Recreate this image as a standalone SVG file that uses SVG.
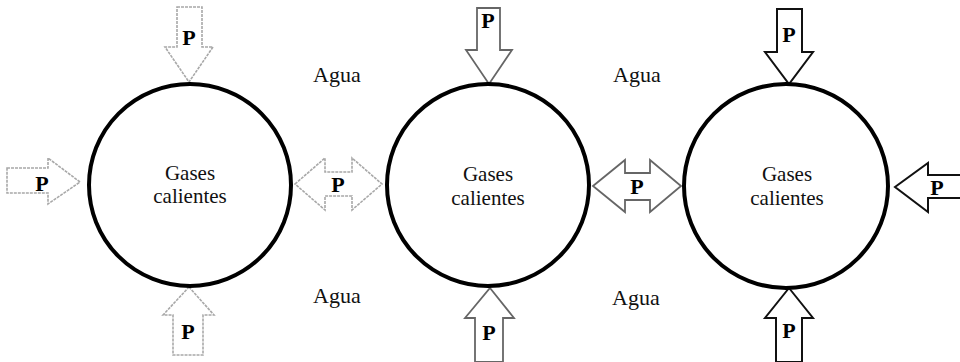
<svg xmlns="http://www.w3.org/2000/svg" width="960" height="362" viewBox="0 0 960 362">
<style>
.circ{fill:none;stroke:#000;stroke-width:4}
.a1{fill:#fff;stroke:#a8a8a8;stroke-width:1.6;stroke-dasharray:3 1}
.a2{fill:#fff;stroke:#666;stroke-width:1.8}
.a3{fill:#fff;stroke:#111;stroke-width:2}
.p{font-family:"Liberation Serif",serif;font-weight:bold;font-size:22px;text-anchor:middle;fill:#000}
.lbl{font-family:"Liberation Serif",serif;font-size:21px;text-anchor:middle;fill:#111}
.agua{font-family:"Liberation Serif",serif;font-size:22px;fill:#111}
</style>
<rect width="960" height="362" fill="#fff"/>
<g id="connectors">
<g id="arrow-top-1"><polygon class="a1" points="177,7 202,7 202,47 213,47 189,82 165,47 177,47"/><text class="p" x="189" y="45">P</text></g>
<g id="arrow-bottom-1"><polygon class="a1" points="189,287 214,315 203,315 203,355 173,355 173,315 163,315"/><text class="p" x="188" y="339">P</text></g>
<g id="arrow-left-1"><polygon class="a1" points="7,168 48,168 48,158 80,182 48,204 48,193 7,193"/><text class="p" x="42" y="191">P</text></g>
<g id="arrow-mid-1"><polygon class="a1" points="295,184 325,158 325,172 352,172 352,158 382,184 352,210 352,196 325,196 325,210"/><text class="p" x="338" y="192">P</text></g>
<g id="arrow-top-2"><polygon class="a2" points="477,8 500,8 500,50 512,50 489,84 466,50 477,50"/><text class="p" x="488" y="28">P</text></g>
<g id="arrow-bottom-2"><polygon class="a2" points="490,288 514,318 503,318 503,362 475,362 475,318 465,318"/><text class="p" x="489" y="340">P</text></g>
<g id="arrow-mid-2"><polygon class="a2" points="593,186 625,160 625,173 650,173 650,160 681,186 650,212 650,200 625,200 625,212"/><text class="p" x="637" y="194">P</text></g>
<g id="arrow-top-3"><polygon class="a3" points="777,9 802,9 802,52 813,52 789,84 765,52 777,52"/><text class="p" x="789" y="42">P</text></g>
<g id="arrow-bottom-3"><polygon class="a3" points="789,288 813,318 802,318 802,362 776,362 776,318 765,318"/><text class="p" x="789" y="338">P</text></g>
<g id="arrow-right-3"><path class="a3" d="M961,175 L928,175 L928,163 L895,187 L928,212 L928,198 L961,198"/><text class="p" x="937" y="195">P</text></g>
</g>
<g id="node-1"><circle class="circ" cx="190" cy="185" r="101"/><text class="lbl" x="190" y="180">Gases</text><text class="lbl" x="190" y="203">calientes</text></g>
<g id="node-2"><circle class="circ" cx="488" cy="185" r="101"/><text class="lbl" x="488" y="181">Gases</text><text class="lbl" x="488" y="205">calientes</text></g>
<g id="node-3"><circle class="circ" cx="786" cy="186" r="102"/><text class="lbl" x="787" y="181">Gases</text><text class="lbl" x="787" y="205">calientes</text></g>
<g id="labels">
<text class="agua" x="313" y="82">Agua</text>
<text class="agua" x="613" y="82">Agua</text>
<text class="agua" x="313" y="303">Agua</text>
<text class="agua" x="612" y="305">Agua</text>
</g>
</svg>
